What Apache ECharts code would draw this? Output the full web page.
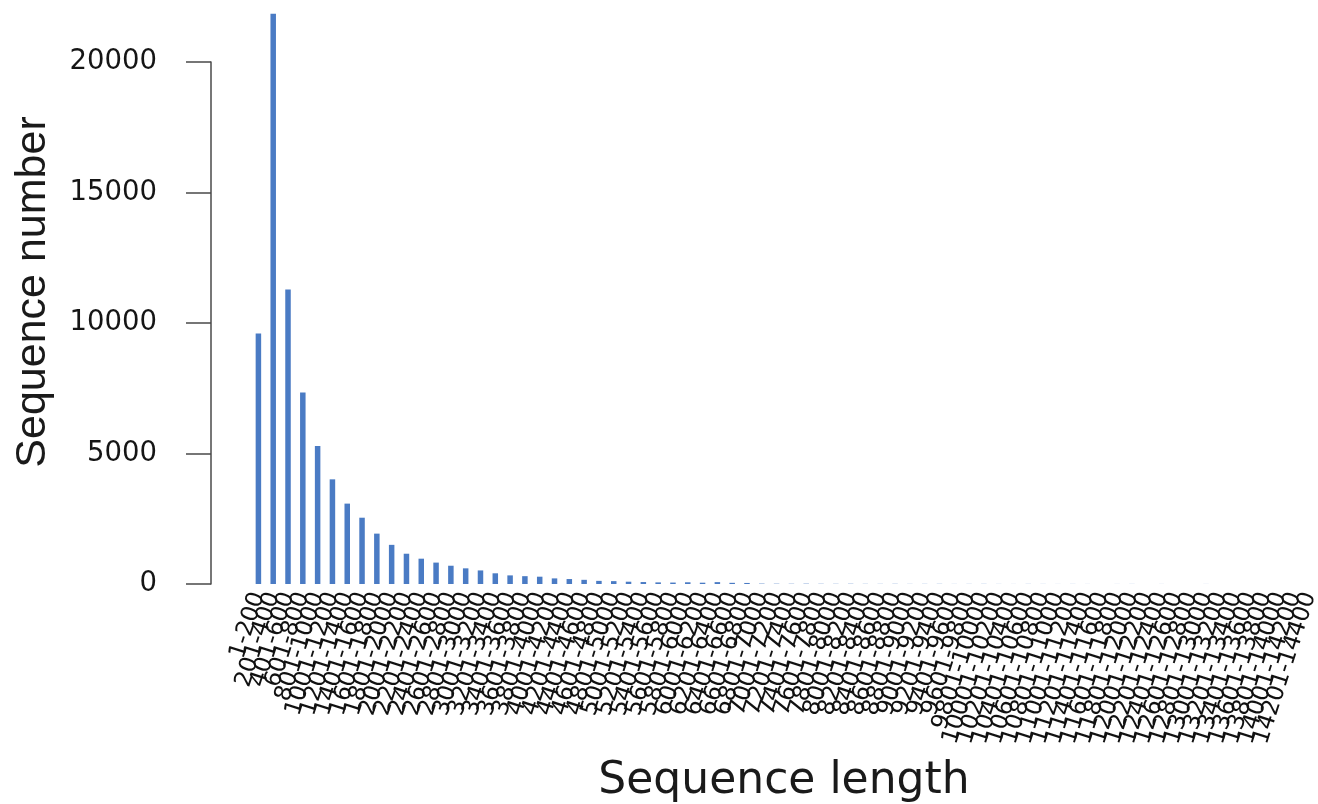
<!DOCTYPE html>
<html>
<head>
<meta charset="utf-8">
<script src="https://cdn.jsdelivr.net/npm/echarts@6/dist/echarts.min.js"></script>
<style>
html,body{margin:0;padding:0;background:#fff;}
#chart{width:1318px;height:804px;}
</style>
</head>
<body>
<div id="chart"></div>
<script>
var categories = [
  "1-200","201-400","401-600","601-800","801-1000","1001-1200","1201-1400","1401-1600",
  "1601-1800","1801-2000","2001-2200","2201-2400","2401-2600","2601-2800","2801-3000","3001-3200",
  "3201-3400","3401-3600","3601-3800","3801-4000","4001-4200","4201-4400","4401-4600","4601-4800",
  "4801-5000","5001-5200","5201-5400","5401-5600","5601-5800","5801-6000","6001-6200","6201-6400",
  "6401-6600","6601-6800","6801-7000","7001-7200","7201-7400","7401-7600","7601-7800","7801-8000",
  "8001-8200","8201-8400","8401-8600","8601-8800","8801-9000","9001-9200","9201-9400","9401-9600",
  "9601-9800","9801-10000","10001-10200","10201-10400","10401-10600","10601-10800","10801-11000","11001-11200",
  "11201-11400","11401-11600","11601-11800","11801-12000","12001-12200","12201-12400","12401-12600","12601-12800",
  "12801-13000","13001-13200","13201-13400","13401-13600","13601-13800","13801-14000","14001-14200","14201-14400"
];
var sequenceCounts = [
  9600, 21850, 11280, 7340, 5290, 4010, 3080, 2540, 1930, 1500, 1160, 970, 820, 700, 600, 520,
  410, 330, 300, 280, 215, 190, 160, 120, 110, 88, 75, 62, 55, 66, 50, 72,
  45, 40, 14, 11, 9, 12, 8, 7, 9, 6, 5, 7, 4, 5, 6, 3,
  4, 5, 3, 2, 4, 3, 2, 3, 2, 1, 2, 3, 1, 2, 1, 1,
  2, 1, 1, 0, 1, 1, 0, 1
];
var yTicks = [0, 5000, 10000, 15000, 20000];

var chart = echarts.init(document.getElementById('chart'), null, {renderer: 'canvas'});
var axisColor = '#4a4a4a';
chart.setOption({
  backgroundColor: '#ffffff',
  animation: false,
  grid: {left: 251, right: 1, top: 62, bottom: 220, containLabel: false, outerBoundsMode: 'none'},
  xAxis: {
    type: 'category',
    data: categories,
    boundaryGap: true,
    axisLine: {show: false},
    axisTick: {show: false},
    axisLabel: {
      interval: 0,
      rotate: 72,
      margin: 9,
      hideOverlap: false,
      fontFamily: 'DejaVu Sans',
      fontSize: 23.5,
      color: '#111111'
    },
    name: 'Sequence length',
    nameLocation: 'middle',
    nameGap: 176,
    nameMoveOverlap: false,
    nameTextStyle: {fontFamily: 'DejaVu Sans', fontSize: 44, color: '#1a1a1a'}
  },
  yAxis: {
    type: 'value',
    min: yTicks[0],
    max: yTicks[yTicks.length - 1],
    interval: 5000,
    offset: 40,
    splitLine: {show: false},
    axisLine: {show: true, lineStyle: {color: axisColor, width: 1.5}},
    axisTick: {show: true, length: 25, lineStyle: {color: axisColor, width: 1.5}},
    axisLabel: {
      margin: 54,
      fontFamily: 'DejaVu Sans',
      fontSize: 27.5,
      color: '#151515',
      formatter: function (v) { return String(v); }
    },
    name: 'Sequence number',
    nameLocation: 'middle',
    nameRotate: 90,
    nameGap: 156,
    nameMoveOverlap: false,
    nameTextStyle: {fontFamily: 'Liberation Sans', fontSize: 43, color: '#1a1a1a', padding: [0, 0, 0, 62]}
  },
  series: [{
    type: 'bar',
    data: sequenceCounts,
    barWidth: 5.5,
    clip: false,
    itemStyle: {color: '#4a7bc4'}
  }]
});
</script>
</body>
</html>
